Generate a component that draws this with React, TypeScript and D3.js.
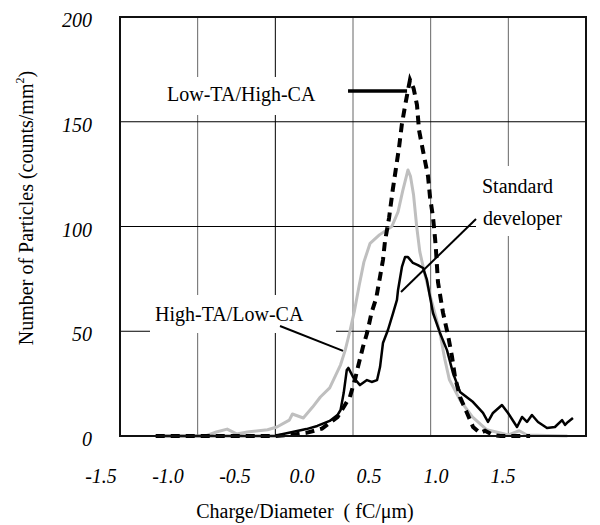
import React from "react";
import * as d3 from "d3";

// x ticks and y ticks
const xTicks = [-1.5, -1.0, -0.5, 0.0, 0.5, 1.0, 1.5];
const yTicks = [0, 50, 100, 150, 200];

// High-TA/Low-CA (gray)
const highTaLowCa: [number, number][] = [
  [-1.27, 0], [-0.95, 0], [-0.88, 1.9], [-0.81, 3.3], [-0.75, 1], [-0.68, 1.9],
  [-0.55, 3], [-0.49, 4.3], [-0.41, 7.6], [-0.39, 10.5], [-0.32, 8.6], [-0.26, 13.8],
  [-0.21, 18.6], [-0.15, 23], [-0.08, 34], [-0.05, 41], [-0.02, 50], [0.01, 60],
  [0.04, 72], [0.07, 83], [0.11, 92], [0.17, 96], [0.25, 100], [0.29, 107],
  [0.32, 117], [0.354, 127], [0.37, 124], [0.39, 115], [0.41, 100], [0.43, 88],
  [0.46, 78], [0.5, 66], [0.54, 55], [0.56, 49], [0.59, 37], [0.62, 27],
  [0.69, 17], [0.77, 9], [0.86, 3], [0.95, 1.4], [1.0, 0.5], [1.07, 2.5],
  [1.12, 0.5], [1.38, 0],
];

// Standard developer (solid black)
const standardDev: [number, number][] = [
  [-1.27, 0], [-0.5, 0], [-0.45, 1], [-0.39, 1.9], [-0.3, 3.3], [-0.23, 4.8],
  [-0.15, 7.2], [-0.1, 10], [-0.08, 12.4], [-0.06, 20.5], [-0.04, 31.5], [-0.03, 32.5],
  [0.0, 28.2], [0.045, 24.3], [0.09, 26.7], [0.12, 25.8], [0.155, 26.7], [0.174, 32.9],
  [0.193, 44.4], [0.225, 50.6], [0.258, 58.7], [0.283, 65], [0.29, 69.7], [0.315, 80.7],
  [0.335, 85.4], [0.354, 85.4], [0.386, 82.6], [0.418, 81.6], [0.451, 80.2], [0.476, 74.5],
  [0.496, 66.3], [0.515, 58.7], [0.56, 49.2], [0.605, 41], [0.644, 30], [0.689, 21],
  [0.773, 16.2], [0.837, 11], [0.869, 6.7], [0.901, 11], [0.959, 14.8], [0.998, 11],
  [1.056, 4.3], [1.088, 9.1], [1.12, 6.7], [1.152, 10], [1.191, 6.7], [1.249, 3.8],
  [1.3, 4.3], [1.346, 7.6], [1.365, 5.3], [1.384, 6.7], [1.416, 8.6],
];

// Low-TA/High-CA (dashed black)
const lowTaHighCa: [number, number][] = [
  [-1.27, 0], [-0.5, 0], [-0.4, 0.5], [-0.3, 1.5], [-0.2, 3.5], [-0.1, 9],
  [-0.02, 18.6], [0.013, 27], [0.032, 33], [0.064, 42.5], [0.09, 49], [0.12, 59],
  [0.15, 66], [0.174, 76], [0.193, 84], [0.206, 93], [0.232, 104], [0.255, 117],
  [0.296, 137.5], [0.315, 149], [0.341, 160], [0.367, 170], [0.39, 166], [0.412, 158],
  [0.425, 146], [0.451, 136], [0.483, 124], [0.496, 114], [0.515, 104.5], [0.528, 94.5],
  [0.534, 89], [0.547, 73.5], [0.579, 59], [0.612, 48], [0.637, 38], [0.657, 28],
  [0.689, 18.6], [0.734, 11], [0.773, 4.3], [0.818, 1.4], [0.85, 2.5], [0.9, 0.5],
  [0.95, 0], [1.14, 0],
];

const FONT = "Liberation Serif";

export default function App() {
  const x = d3.scaleLinear().domain([-1.5, 1.5]).range([120, 586]);
  const y = d3.scaleLinear().domain([0, 200]).range([436, 17]);
  // tick labels sit a bit left of the grid in the original figure
  const xLab = d3.scaleLinear().domain([-1.5, 1.5]).range([101, 503]);

  const line = d3
    .line<[number, number]>()
    .x((d) => x(d[0]))
    .y((d) => y(d[1]));

  return (
    <svg width={600} height={525} style={{ position: "fixed", left: 0, top: 0, background: "#fff" }}>
      {/* grid */}
      {xTicks.slice(1, -1).map((t) => (
        <line key={"gx" + t} x1={x(t)} x2={x(t)} y1={y(0)} y2={y(200)} stroke={t === -0.5 ? "#000" : "#666"} strokeWidth={1} />
      ))}
      {yTicks.slice(1, -1).map((t) => (
        <line key={"gy" + t} x1={x(-1.5)} x2={x(1.5)} y1={y(t)} y2={y(t)} stroke="#000" strokeWidth={1} />
      ))}

      {/* label boxes hide the grid */}
      <rect x={160} y={77} width={182} height={38} fill="#fff" />
      <rect x={150} y={295} width={186} height={38} fill="#fff" />
      <rect x={476} y={166} width={109} height={70} fill="#fff" />

      {/* curves */}
      <path d={line(highTaLowCa) || ""} fill="none" stroke="#bfbfbf" strokeWidth={3} strokeLinejoin="round" />
      <path d={line(standardDev) || ""} fill="none" stroke="#000" strokeWidth={2.5} strokeLinejoin="round" />
      <path d={line(lowTaHighCa) || ""} fill="none" stroke="#000" strokeWidth={4} strokeDasharray="9,6" />

      {/* frame */}
      <rect x={x(-1.5)} y={y(200)} width={x(1.5) - x(-1.5)} height={y(0) - y(200)} fill="none" stroke="#111" strokeWidth={2} />

      {/* y tick labels */}
      {yTicks.map((t) => (
        <text key={"ty" + t} x={92} y={y(t) + 10} textAnchor="end" fontSize={20} fontFamily={FONT} fontStyle="italic">
          {t}
        </text>
      ))}
      {/* x tick labels */}
      {xTicks.map((t) => (
        <text key={"tx" + t} x={xLab(t)} y={483} textAnchor="middle" fontSize={20} fontFamily={FONT} fontStyle="italic">
          {t.toFixed(1)}
        </text>
      ))}

      {/* axis titles */}
      <text x={305} y={518} textAnchor="middle" fontSize={20} fontFamily={FONT} style={{ whiteSpace: "pre" }}>
        {"Charge/Diameter  ( fC/\u03bcm)"}
      </text>
      <text transform="translate(33,208) rotate(-90)" textAnchor="middle" fontSize={20} fontFamily={FONT}>
        Number of Particles (counts/mm
        <tspan fontSize={12} dy={-9}>2</tspan>
        <tspan dy={9}>)</tspan>
      </text>

      {/* annotations */}
      <text x={167} y={101} fontSize={20} fontFamily={FONT}>Low-TA/High-CA</text>
      <line x1={x(-0.032)} x2={x(0.348)} y1={y(164.7)} y2={y(164.7)} stroke="#000" strokeWidth={3.5} />

      <text x={482} y={193} fontSize={20} fontFamily={FONT}>Standard</text>
      <text x={483} y={225} fontSize={20} fontFamily={FONT}>developer</text>
      <line x1={x(0.792)} y1={y(103.6)} x2={x(0.309)} y2={y(68.7)} stroke="#000" strokeWidth={2} />

      <text x={155} y={321} fontSize={20} fontFamily={FONT}>High-TA/Low-CA</text>
      <line x1={x(-0.47)} y1={y(52.5)} x2={x(-0.064)} y2={y(40.6)} stroke="#000" strokeWidth={2} />
    </svg>
  );
}
